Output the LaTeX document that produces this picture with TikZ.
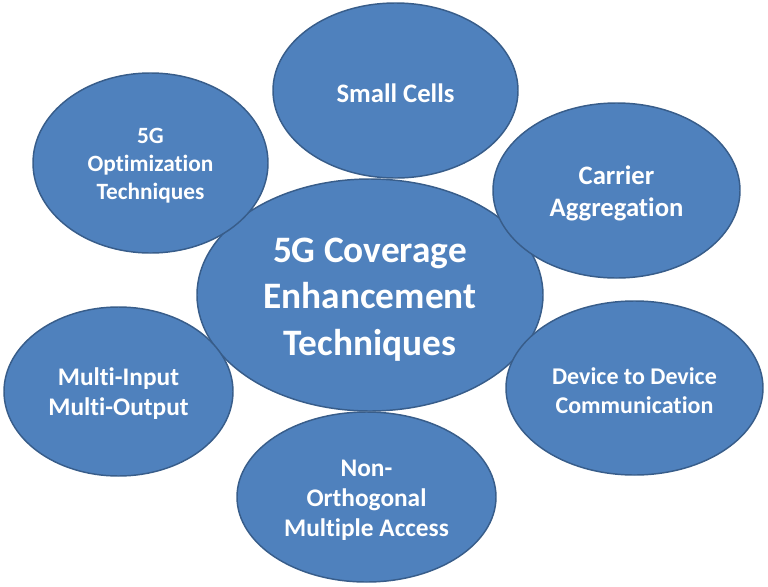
\documentclass[tikz,border=0pt]{standalone}
\usepackage{fontspec}
\setmainfont[Ligatures=NoCommon,Contextuals=NoAlternate]{Carlito}
\usepackage{tikz}
\usetikzlibrary{shapes,positioning}
\definecolor{bubblefill}{HTML}{4F81BD}
\definecolor{bubbleline}{HTML}{385D8A}
\newcommand{\topstrut}{\rule{0pt}{0.9em}}

\begin{document}
\begin{tikzpicture}[x=0.75pt,y=-0.75pt,
  bubble/.style={ellipse, draw=bubbleline, fill=bubblefill, line width=1.1pt,
    text=white, align=center, inner sep=0pt, outer sep=0pt},
  bigtext/.style={font=\bfseries\fontsize{28}{35}\selectfont},
  midtext/.style={font=\bfseries\fontsize{19}{22.5}\selectfont}]
\useasboundingbox (0,0) rectangle (768,586);
\node[bubble, bigtext, minimum width=259.5pt, minimum height=174pt] (Core) at (370,295) {\topstrut 5G Coverage\\Enhancement\\Techniques};
\node[bubble, midtext, minimum width=183.75pt, minimum height=131.25pt, font=\bfseries\fontsize{20}{24}\selectfont] (Cells) at (395.5,90.5) {\topstrut Small Cells};
\node[bubble, midtext, minimum width=185.25pt, minimum height=131.25pt, font=\bfseries\fontsize{20}{24}\selectfont] (Carrier) at (616.5,190.5) {\topstrut Carrier\\Aggregation};
\node[bubble, midtext, minimum width=176.25pt, minimum height=135pt, font=\bfseries\fontsize{17.5}{21}\selectfont] (Optim) at (150.5,163) {\topstrut 5G\\Optimization\\Techniques};
\node[bubble, midtext, minimum width=171.75pt, minimum height=126.75pt] (Mimo) at (118.5,391.5) {\topstrut Multi-Input\\Multi-Output};
\node[bubble, midtext, minimum width=192.75pt, minimum height=130.5pt, font=\bfseries\fontsize{18}{21.5}\selectfont] (DtoD) at (634.5,388) {\topstrut Device to Device\\Communication};
\node[bubble, midtext, minimum width=194.25pt, minimum height=127.5pt] (Noma) at (366.5,497) {\topstrut Non-\\Orthogonal\\Multiple Access};
\end{tikzpicture}
\end{document}
